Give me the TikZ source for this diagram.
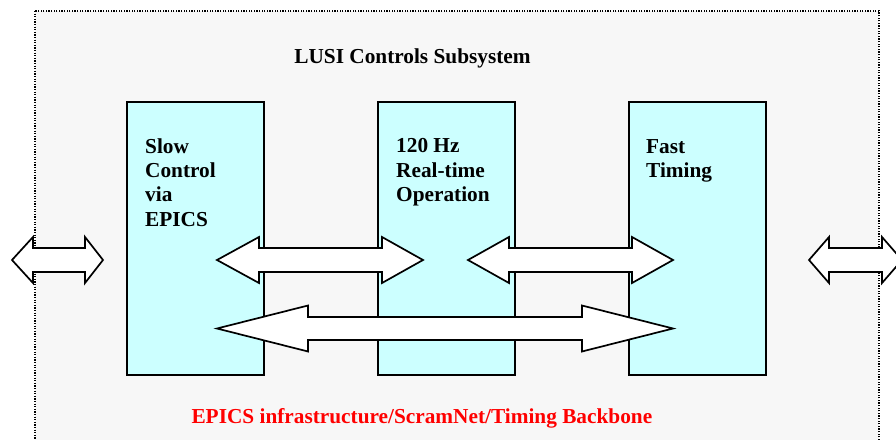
\documentclass[tikz,border=0pt]{standalone}
\usepackage{fontspec}
\setmainfont{Liberation Serif}
\definecolor{bgray}{HTML}{F7F7F7}
\definecolor{boxcyan}{HTML}{CCFFFF}
\tikzset{
  sysbox/.style={draw=black, fill=boxcyan, line width=1.8pt, minimum width=137pt, minimum height=273pt, inner sep=0pt},
  dblarr/.style={draw=black, fill=white, line width=1.7pt, line join=miter},
  boxtext/.style={font=\fontsize{21.3}{24.2}\selectfont\bfseries, align=left, inner sep=0pt, anchor=north west},
  bigtext/.style={font=\fontsize{21.3}{24}\selectfont\bfseries},
}
% \mydblarrow{name}{lefttip}{leftbase}{rightbase}{righttip}{yc}{halfshaft}{halfhead}
\newcommand{\mydblarrow}[8]{%
  \draw[dblarr] (#2,#6) -- (#3,#6-#8) -- (#3,#6-#7) -- (#4,#6-#7) -- (#4,#6-#8)
    -- (#5,#6) -- (#4,#6+#8) -- (#4,#6+#7) -- (#3,#6+#7) -- (#3,#6+#8) -- cycle;
  \coordinate (#1) at ({(#2+#5)/2},#6);}
\begin{document}
\begin{tikzpicture}[x=1pt,y=-1pt]
  \useasboundingbox (0,0) rectangle (896,439);
  \clip (0,0) rectangle (896,439);
  \fill[white] (0,0) rectangle (896,439);
  % outer subsystem frame
  \draw[fill=bgray, line width=1.2pt, dash pattern=on 1.2pt off 1.4pt] (35,11) rectangle (879,460);
  \node[bigtext, anchor=base] (title) at (412.5,63) {LUSI Controls Subsystem};
  % boxes
  \node[sysbox, anchor=north west] (slow) at (126,101) {};
  \node[sysbox, anchor=north west] (rt) at (377,101) {};
  \node[sysbox, anchor=north west] (fast) at (628,101) {};
  \node[boxtext] (slowt) at (145,138.6) {Slow\\Control\\via\\EPICS};
  \node[boxtext] (rtt) at (396,138.6) {120 Hz\\Real-time\\Operation};
  \node[boxtext] (fastt) at (646,138.9) {Fast\\Timing};
  % arrows
  \mydblarrow{aleft}{12}{33}{85}{103}{260}{12}{23}
  \mydblarrow{a12}{217}{259}{382}{423}{260}{12}{23}
  \mydblarrow{a23}{468}{509}{632}{673}{260}{12}{23}
  \mydblarrow{along}{217}{308}{582}{673}{328.5}{11.5}{23}
  \mydblarrow{aright}{809}{829}{882}{902}{260}{12}{23}
  \node[bigtext, text=red, anchor=base west] (backbone) at (188,423) {EPICS infrastructure/ScramNet/Timing Backbone};
\end{tikzpicture}
\end{document}
